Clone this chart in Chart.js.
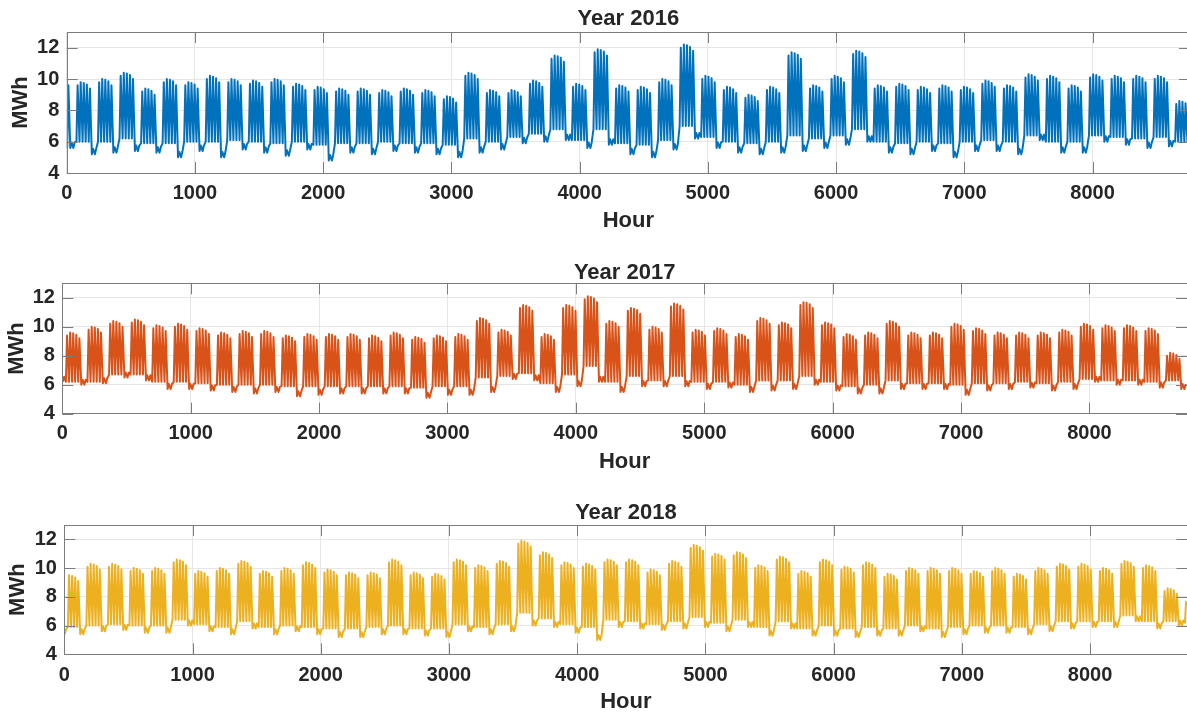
<!DOCTYPE html>
<html>
<head>
<meta charset="utf-8">
<script src="https://cdn.jsdelivr.net/npm/chart.js@4.4.1/dist/chart.umd.min.js"></script>
<style>
html,body{margin:0;padding:0;background:#ffffff;overflow:hidden;width:1187px;height:714px;position:relative;}
.panel{position:absolute;left:0;width:1200px;}
canvas{display:block;}
</style>
</head>
<body>
<div class="panel" style="top:0px;height:240px"><canvas id="c0" width="1200" height="240"></canvas></div>
<div class="panel" style="top:240px;height:240px"><canvas id="c1" width="1200" height="240"></canvas></div>
<div class="panel" style="top:480px;height:234px"><canvas id="c2" width="1200" height="234"></canvas></div>
<script>
// ---------------- DATA ----------------
const titles = ['Year 2016', 'Year 2017', 'Year 2018'];
const xTickValues = [0, 1000, 2000, 3000, 4000, 5000, 6000, 7000, 8000];
const yTickValues = [4, 6, 8, 10, 12];
const hoursInYear = [8784, 8760, 8760];
// weekday index (Mon=0) of hour 0 of each year
const startDow = [4, 6, 0];

// Weekly values (MWh). Index 0 of 2016 / 2017 is the partial week before the first Monday.
// peaks = highest weekday peak of the week, nights = weekday night trough, lows = weekend level
const peaks2016 = [10.0,
  9.8, 10.0, 10.4, 9.4, 10.0, 9.8, 10.2, 10.0, 9.9, 10.0,
  9.7, 9.5, 9.4, 9.4, 9.3, 9.4, 9.3, 8.9, 10.4, 9.3,
  9.3, 9.9, 11.5, 9.7, 11.9, 9.6, 9.5, 10.0, 12.2, 10.2,
  9.5, 9.0, 9.5, 11.7, 9.6, 10.2, 11.8, 9.6, 9.7, 9.5,
  9.6, 9.5, 9.9, 9.6, 10.3, 10.2, 9.6, 10.3, 10.2, 10.2,
  10.2, 8.6];
const nights2016 = [5.6,
  6.0, 6.0, 6.2, 5.9, 5.9, 6.0, 6.0, 6.1, 6.0, 5.9,
  6.0, 5.8, 5.9, 5.9, 6.0, 5.9, 5.9, 5.8, 6.2, 6.0,
  6.3, 6.5, 6.8, 6.1, 6.8, 5.9, 5.8, 6.1, 7.0, 6.3,
  6.0, 5.9, 6.0, 6.4, 6.2, 6.4, 6.8, 6.0, 5.9, 6.0,
  5.9, 6.0, 6.1, 6.0, 6.4, 6.0, 6.0, 6.4, 6.3, 6.2,
  6.3, 6.0];
const lows2016 = [5.6,
  5.2, 5.3, 5.4, 5.3, 5.0, 5.4, 5.0, 5.5, 5.3, 5.1,
  5.5, 4.8, 5.3, 5.2, 5.4, 5.3, 5.2, 5.0, 5.3, 5.5,
  5.9, 6.0, 6.1, 5.6, 5.8, 5.2, 5.0, 5.5, 6.2, 5.6,
  5.3, 5.2, 5.3, 5.4, 5.6, 5.8, 6.0, 5.3, 5.2, 5.4,
  5.0, 5.4, 5.4, 5.2, 6.1, 5.3, 5.3, 6.0, 5.8, 5.6,
  5.7, 5.6];

const peaks2017 = [6.2,
  9.6, 10.0, 10.4, 10.5, 10.1, 10.2, 9.9, 9.6, 9.7, 9.7,
  9.4, 9.5, 9.5, 9.5, 9.4, 9.6, 9.3, 9.4, 9.5, 10.6,
  9.8, 11.5, 9.5, 11.5, 12.1, 10.4, 11.3, 10.0, 11.6, 9.8,
  9.9, 9.5, 10.6, 10.3, 11.7, 10.3, 9.5, 9.6, 10.4, 9.6,
  9.6, 10.2, 9.9, 9.6, 9.6, 9.6, 9.8, 10.2, 10.1, 10.1,
  9.9, 8.2];
const nights2017 = [6.2,
  6.2, 6.2, 6.7, 6.7, 6.2, 6.2, 6.1, 6.0, 6.0, 6.0,
  5.9, 5.9, 5.9, 5.9, 5.9, 5.9, 5.8, 5.9, 5.9, 6.5,
  6.6, 6.8, 6.1, 6.7, 7.3, 6.2, 6.6, 6.3, 6.6, 6.2,
  6.2, 6.0, 6.3, 6.3, 6.6, 6.2, 5.9, 6.0, 6.3, 6.1,
  6.1, 6.0, 6.1, 6.1, 6.2, 6.1, 6.2, 6.4, 6.3, 6.3,
  6.2, 6.3];
const lows2017 = [6.2,
  6.0, 6.1, 6.5, 6.3, 5.7, 5.7, 5.6, 5.5, 5.4, 5.5,
  5.2, 5.3, 5.4, 5.4, 5.4, 5.4, 5.1, 5.3, 5.3, 5.5,
  6.4, 6.3, 5.5, 5.9, 6.2, 5.5, 5.9, 5.9, 5.9, 5.7,
  5.8, 5.5, 5.6, 5.7, 6.0, 5.6, 5.4, 5.4, 5.7, 5.7,
  5.7, 5.3, 5.6, 5.7, 5.8, 5.6, 5.7, 6.2, 6.0, 6.0,
  5.8, 5.7];

const peaks2018 = [
  9.5, 10.3, 10.3, 10.0, 10.0, 10.6, 9.8, 10.0, 10.5, 9.8,
  10.0, 10.4, 9.9, 9.7, 9.7, 10.6, 9.7, 9.6, 10.6, 10.2,
  10.5, 11.9, 11.1, 10.4, 10.3, 10.6, 10.6, 9.9, 10.5, 11.6,
  11.0, 11.1, 10.2, 10.8, 9.8, 10.6, 10.1, 10.4, 9.6, 10.0,
  10.0, 10.0, 9.8, 10.0, 9.6, 10.0, 10.3, 10.3, 10.0, 10.5,
  10.2, 8.6, 7.9];
const nights2018 = [
  5.9, 6.0, 6.1, 6.0, 6.0, 6.4, 6.1, 5.9, 6.3, 5.9,
  6.0, 5.9, 5.8, 5.8, 5.9, 6.0, 5.8, 5.8, 6.1, 5.9,
  6.1, 6.9, 6.5, 6.1, 5.9, 6.4, 6.3, 6.1, 6.3, 6.6,
  6.2, 6.4, 5.9, 6.3, 5.8, 6.0, 5.8, 5.9, 5.8, 6.0,
  5.8, 5.9, 6.0, 6.0, 5.9, 6.1, 6.3, 6.3, 6.3, 6.7,
  6.3, 6.3, 6.2];
const lows2018 = [
  5.4, 5.6, 5.7, 5.5, 5.5, 6.0, 5.6, 5.4, 5.8, 5.4,
  5.6, 5.4, 5.2, 5.2, 5.4, 5.4, 5.3, 5.2, 5.6, 5.4,
  5.6, 6.0, 5.9, 5.5, 5.0, 5.9, 5.8, 5.7, 5.8, 5.9,
  5.6, 5.9, 5.3, 5.8, 5.3, 5.3, 5.2, 5.3, 5.3, 5.6,
  5.2, 5.4, 5.5, 5.5, 5.4, 5.6, 5.8, 5.9, 5.9, 6.3,
  5.8, 6.0, 6.0];

// typical drop of each weekday peak (Mon..Fri) below the week's highest peak (MWh)
const weekdayDrop = [0.2, 0.0, 0.05, 0.15, 0.4];
// days that behave like weekend days (holidays), by day index
const holidays = [[], [], [0]];
// small daytime rise on weekend days (MWh)
const weekendRise = 0.35;

// ---------------- STYLE / LAYOUT ----------------
const colors = ['#0072BD', '#D95319', '#EDB120'];
const FONT = "'Liberation Sans', Arial, Helvetica, sans-serif";
const TEXT = '#262626';
const layoutCfg = [
  {id:'c0', H:240, L:66.7, R:1190, tTop:7.5,  tBot:2.5, xH:67,   tickPad:10.5, hourPad:8,   mwhPad:10},
  {id:'c1', H:240, L:62.3, R:1187, tTop:21.5, tBot:-0.2, xH:66.3, tickPad:9.3,  hourPad:7.3, mwhPad:5.7},
  {id:'c2', H:234, L:64.3, R:1187.5, tTop:21.5, tBot:1.5, xH:59.7, tickPad:10.7, hourPad:1.3, mwhPad:7.3}
];
const TICK_LEN = 11;

const weekly = [
  {peaks: peaks2016, nights: nights2016, lows: lows2016},
  {peaks: peaks2017, nights: nights2017, lows: lows2017},
  {peaks: peaks2018, nights: nights2018, lows: lows2018}
];

function buildSeries(i) {
  const w = weekly[i];
  const days = hoursInYear[i] / 24;
  const pts = [];
  for (let d = 0; d < days; d++) {
    const k = Math.floor((d + startDow[i]) / 7);
    const dow = (d + startDow[i]) % 7;
    const h0 = d * 24;
    const isOff = dow >= 5 || holidays[i].includes(d);
    if (isOff) {
      const lo = w.lows[k];
      pts.push({x: h0 + 4, y: lo});
      pts.push({x: h0 + 14, y: lo + weekendRise});
    } else {
      pts.push({x: h0 + 4, y: w.nights[k]});
      pts.push({x: h0 + 13, y: w.peaks[k] - weekdayDrop[dow]});
    }
  }
  return pts;
}

const boxPlugin = {
  id: 'matlabBox',
  afterDatasetsDraw(chart) {
    const {ctx, chartArea: a} = chart;
    const xs = chart.scales.x, ys = chart.scales.y;
    ctx.save();
    ctx.strokeStyle = '#7c7c7c';
    ctx.lineWidth = 1;
    ctx.beginPath();
    xs.ticks.forEach(t => {
      const px = Math.round(xs.getPixelForValue(t.value)) + 0.5;
      ctx.moveTo(px, a.top); ctx.lineTo(px, a.top + TICK_LEN);
      ctx.moveTo(px, a.bottom); ctx.lineTo(px, a.bottom - TICK_LEN);
    });
    ys.ticks.forEach(t => {
      const py = Math.round(ys.getPixelForValue(t.value)) + 0.5;
      ctx.moveTo(a.left, py); ctx.lineTo(a.left + TICK_LEN, py);
      ctx.moveTo(a.right, py); ctx.lineTo(a.right - TICK_LEN, py);
    });
    ctx.stroke();
    ctx.strokeRect(Math.round(a.left) + 0.5, Math.round(a.top) + 0.5,
                   Math.round(a.right - a.left), Math.round(a.bottom - a.top));
    ctx.restore();
  }
};

layoutCfg.forEach((c, i) => {
  new Chart(document.getElementById(c.id), {
    type: 'line',
    data: {
      datasets: [{
        data: buildSeries(i),
        borderColor: colors[i],
        borderWidth: 2,
        borderJoinStyle: 'round',
        pointRadius: 0,
        tension: 0,
        fill: false
      }]
    },
    options: {
      responsive: false,
      animation: false,
      events: [],
      parsing: false,
      normalized: true,
      layout: {padding: {left: 0, top: 0, bottom: 0, right: 1200 - c.R}},
      plugins: {
        legend: {display: false},
        tooltip: {enabled: false},
        title: {
          display: true,
          text: titles[i],
          fullSize: false,
          color: TEXT,
          font: {family: FONT, size: 22, weight: 'bold', lineHeight: 1},
          padding: {top: c.tTop, bottom: c.tBot}
        }
      },
      scales: {
        x: {
          type: 'linear',
          min: 0,
          max: 8760,
          afterBuildTicks: s => { s.ticks = xTickValues.map(v => ({value: v})); },
          afterFit: s => { s.height = c.xH; },
          grid: {color: '#e6e6e6', lineWidth: 1, drawTicks: false},
          border: {display: false},
          ticks: {
            autoSkip: false, maxRotation: 0, padding: c.tickPad, color: TEXT,
            font: {family: FONT, size: 20, weight: 'bold', lineHeight: 1},
            callback: v => String(v)
          },
          title: {
            display: true, text: 'Hour', color: TEXT,
            font: {family: FONT, size: 22, weight: 'bold', lineHeight: 1},
            padding: {top: 0, bottom: c.hourPad}
          }
        },
        y: {
          type: 'linear',
          min: 4,
          max: 13,
          afterBuildTicks: s => { s.ticks = yTickValues.map(v => ({value: v})); },
          afterFit: s => { s.width = c.L; },
          grid: {color: '#e6e6e6', lineWidth: 1, drawTicks: false},
          border: {display: false},
          ticks: {
            padding: 7.4, color: TEXT,
            font: {family: FONT, size: 20, weight: 'bold', lineHeight: 1},
            callback: v => String(v)
          },
          title: {
            display: true, text: 'MWh', color: TEXT,
            font: {family: FONT, size: 22, weight: 'bold', lineHeight: 1},
            padding: {top: c.mwhPad, bottom: 0}
          }
        }
      }
    },
    plugins: [boxPlugin]
  });
});
</script>
</body>
</html>
